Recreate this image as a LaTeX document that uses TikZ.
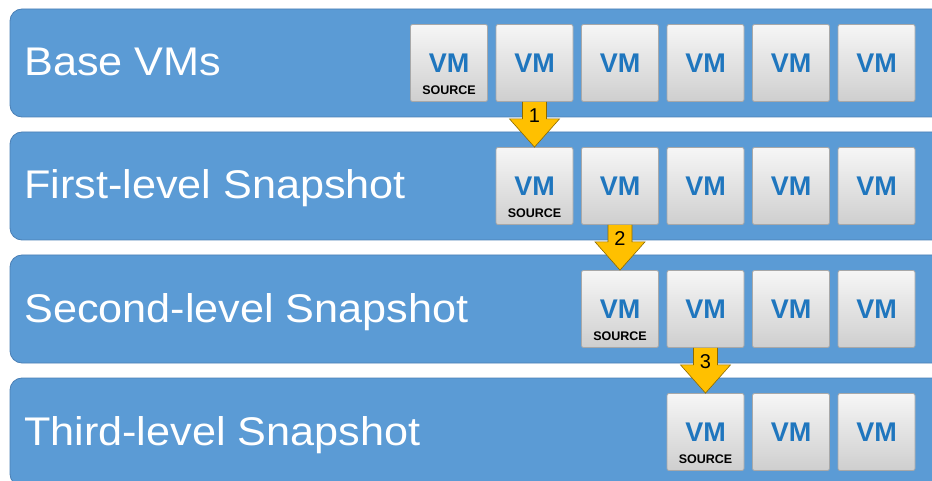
\documentclass[tikz,border=0pt]{standalone}
\usepackage{fontspec}
\setmainfont{Liberation Sans}
\newfontfamily\lblfont[FakeStretch=1.08]{Liberation Sans}
\usetikzlibrary{calc}

\definecolor{bandblue}{HTML}{5B9BD5}
\definecolor{bandedge}{HTML}{4A7FB5}
\definecolor{vmblue}{HTML}{1F76BE}
\definecolor{boxedge}{HTML}{A8A8A8}
\definecolor{flowfill}{HTML}{FFC000}
\definecolor{flowedge}{HTML}{8C6A00}

\begin{document}
\begin{tikzpicture}[x=1pt,y=-1pt,
    band/.style={fill=bandblue, draw=bandedge, line width=0.8pt, rounded corners=12pt},
    bandlbl/.style={anchor=base west, text=white, inner sep=0pt, font=\lblfont\fontsize{40}{40}\selectfont},
    vmbox/.style={draw=boxedge, line width=0.8pt, rounded corners=2pt, minimum size=77pt, inner sep=0pt,
      top color=gray!7, bottom color=gray!38, text=vmblue, font=\bfseries\fontsize{27}{27}\selectfont},
    srctext/.style={inner sep=0pt, font=\bfseries\fontsize{12.5}{12.5}\selectfont},
    flow/.style={fill=flowfill, draw=flowedge, line width=0.6pt, line join=miter},
    stepnum/.style={inner sep=0pt, font=\fontsize{20}{20}\selectfont}]
      \useasboundingbox (0,0) rectangle (932,481);
      \clip (0,0) rectangle (932,481);
      % rows
      \draw[band] (10,9) rectangle (950,117);
      \draw[band] (10,132) rectangle (950,240);
      \draw[band] (10,255) rectangle (950,363);
      \draw[band] (10,378) rectangle (950,486);
      \node[bandlbl] (lbl1) at (24,76) {Base VMs};
      \node[bandlbl] (lbl2) at (24,199) {First-level Snapshot};
      \node[bandlbl] (lbl3) at (24,322) {Second-level Snapshot};
      \node[bandlbl] (lbl4) at (24,445) {Third-level Snapshot};
      % machines
      \foreach \r in {1,...,4}
        \foreach \c in {\r,...,6}
          \node[vmbox] (vm\r\c) at ({449+85.5*(\c-1)}, {63+123*(\r-1)}) {VM};
      \node[srctext] (src1) at ($(vm11)+(0,27)$) {SOURCE};
      \node[srctext] (src2) at ($(vm22)+(0,27)$) {SOURCE};
      \node[srctext] (src3) at ($(vm33)+(0,27)$) {SOURCE};
      \node[srctext] (src4) at ($(vm44)+(0,27)$) {SOURCE};
      % steps
      \foreach \a/\b/\n in {vm12/vm22/1, vm23/vm33/2, vm34/vm44/3} {
        \draw[flow] ($(\a.south)+(-12,0)$) -- ($(\a.south)+(-12,17)$) -- ($(\a.south)+(-25,17)$)
          -- (\b.north) -- ($(\a.south)+(25,17)$) -- ($(\a.south)+(12,17)$) -- ($(\a.south)+(12,0)$);
        \node[stepnum] (n\n) at ($(\a.south)+(0,14)$) {\n};
      }
\end{tikzpicture}
\end{document}
